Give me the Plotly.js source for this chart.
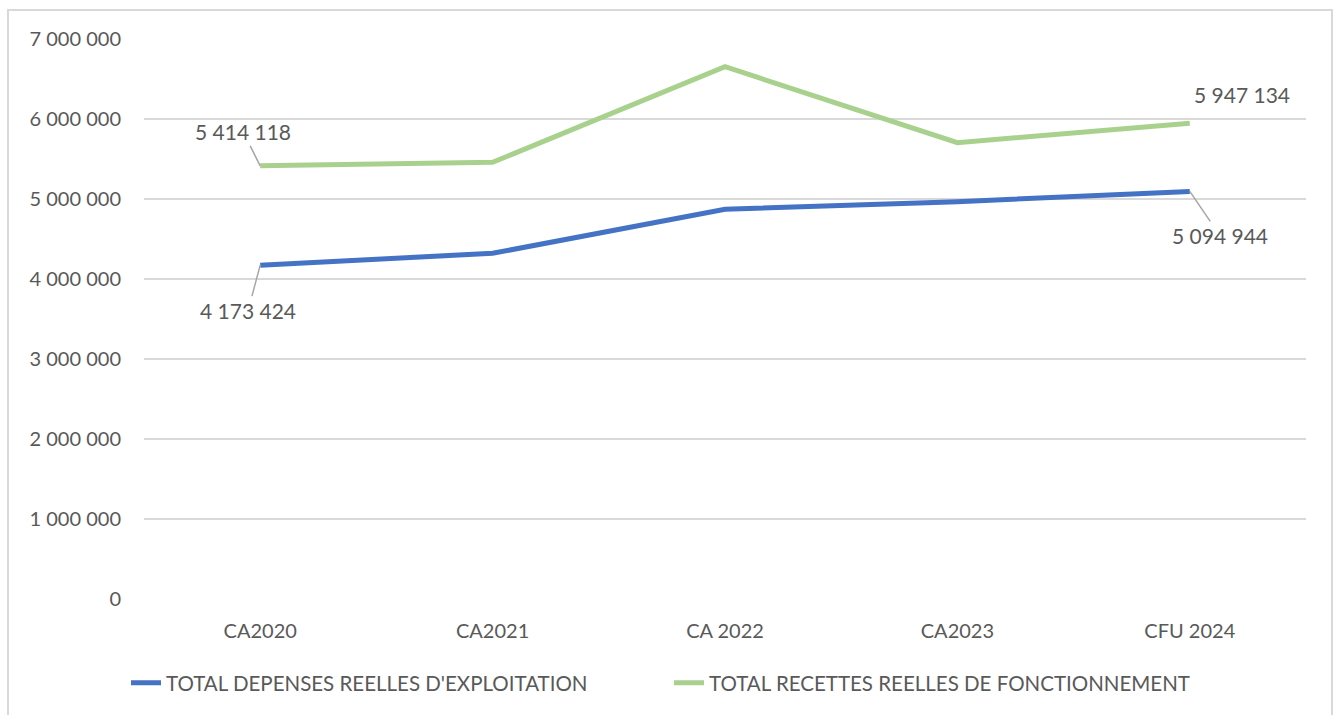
<!DOCTYPE html>
<html>
<head>
<meta charset="utf-8">
<script src="https://cdn.plot.ly/plotly-3.0.1.min.js"></script>
<style>
  html, body { margin: 0; padding: 0; background: #ffffff; overflow: hidden; }
  #wrap { position: relative; width: 1338px; height: 715px; }
  #chart { width: 1338px; height: 715px; }
  #frame { position: absolute; left: 7px; top: 9px; width: 1326px; height: 730px;
           border: 2px solid #d9d9d9; pointer-events: none; box-sizing: border-box; }
</style>
</head>
<body>
<div id="wrap">
  <div id="chart"></div>
  <div id="frame"></div>
</div>
<script>
const categories = ["CA2020", "CA2021", "CA 2022", "CA2023", "CFU 2024"];
const depensesName = "TOTAL DEPENSES REELLES D'EXPLOITATION";
const recettesName = "TOTAL RECETTES REELLES DE FONCTIONNEMENT";
const depenses = [4173424, 4321000, 4871000, 4966000, 5094944];
const recettes = [5414118, 5459000, 6654000, 5704000, 5947134];
const yTicks = [0, 1000000, 2000000, 3000000, 4000000, 5000000, 6000000, 7000000];

function fmt(v) {
  return Math.round(v).toString().replace(/\B(?=(\d{3})+(?!\d))/g, " ");
}

const textColor = "#595959";
const fontFam = "Lato, 'Open Sans', sans-serif";

const traces = [
  { x: categories, y: depenses, name: depensesName, type: "scatter", mode: "lines",
    line: { color: "#4472C4", width: 5 }, hoverinfo: "x+y" },
  { x: categories, y: recettes, name: recettesName, type: "scatter", mode: "lines",
    line: { color: "#A9D18E", width: 5 }, hoverinfo: "x+y" }
];

const last = categories.length - 1;
function lbl(xi, yv, ax, ay, showLine) {
  return { x: categories[xi], y: yv, xref: "x", yref: "y", text: fmt(yv),
    showarrow: true, arrowhead: 0, arrowwidth: 1.5,
    arrowcolor: showLine ? "#a6a6a6" : "rgba(0,0,0,0)",
    ax: ax, ay: ay, standoff: 0,
    font: { family: fontFam, size: 21, color: textColor } };
}

const annotations = [
  lbl(0, recettes[0], -17, -34, true),
  lbl(0, depenses[0], -12, 45, true),
  lbl(last, recettes[last], 52, -29, false),
  lbl(last, depenses[last], 30, 44, true)
];

const layout = {
  width: 1338, height: 715,
  margin: { l: 144, r: 32, t: 39, b: 116 },
  paper_bgcolor: "#ffffff", plot_bgcolor: "#ffffff",
  separators: ". ",
  font: { family: fontFam, size: 20, color: textColor },
  showlegend: true,
  legend: { orientation: "h", xref: "container", yref: "container",
    x: 0.5, xanchor: "center", y: 0.045, yanchor: "middle",
    font: { family: fontFam, size: 20.5, color: textColor },
    entrywidth: 498, entrywidthmode: "pixels", tracegroupgap: 0 },
  xaxis: { type: "category", range: [-0.5, 4.5], showgrid: false, zeroline: false,
    showline: false, ticks: "outside", ticklen: 14, tickcolor: "rgba(0,0,0,0)",
    tickfont: { family: fontFam, size: 20, color: textColor }, fixedrange: true },
  yaxis: { range: [0, 7000000], tickvals: yTicks, ticktext: yTicks.map(fmt),
    showgrid: true, gridcolor: "#d9d9d9", gridwidth: 1.5, zeroline: false,
    showline: false, ticks: "outside", ticklen: 18, tickcolor: "rgba(0,0,0,0)",
    tickfont: { family: fontFam, size: 20, color: textColor }, fixedrange: true },
  annotations: annotations
};

Plotly.newPlot("chart", traces, layout, { displayModeBar: false });
</script>
</body>
</html>
